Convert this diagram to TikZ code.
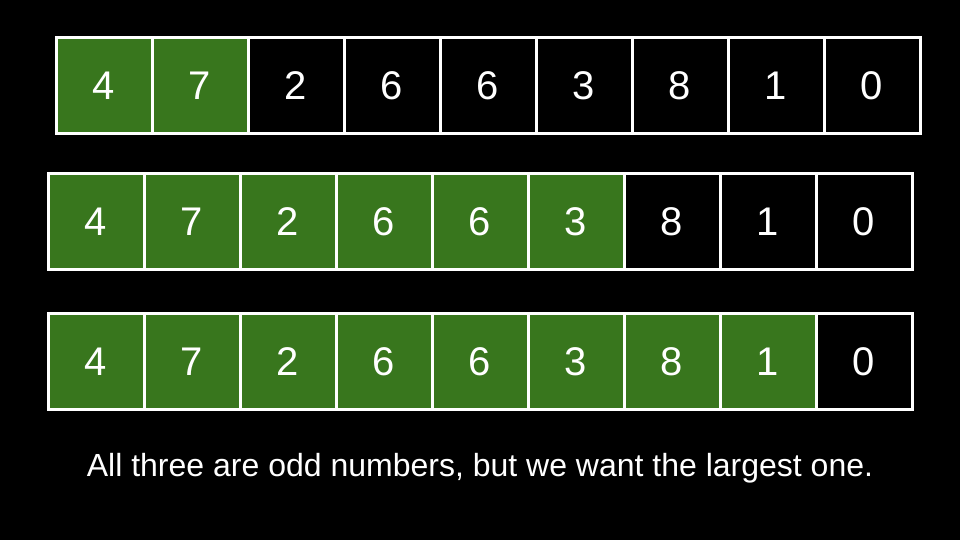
\documentclass[tikz,border=0pt]{standalone}
\usepackage{fontspec}
\setmainfont{Liberation Sans}
\definecolor{cellgreen}{HTML}{38761D}
\newcommand{\dg}[1]{\raisebox{-2pt}{#1}}
\begin{document}
\begin{tikzpicture}[x=1pt,y=-1pt,
  cell/.style={draw=white,line width=3pt,minimum width=96pt,minimum height=96pt,inner sep=0pt,outer sep=0pt,text=white,font=\fontsize{40}{40}\selectfont,anchor=north west},
  gcell/.style={cell,fill=cellgreen},
  bcell/.style={cell,fill=black}]
\fill[black] (0,0) rectangle (960,540);
\useasboundingbox (0,0) rectangle (960,540);
% row 1
\foreach \d [count=\i] in {4,7,2,6,6,3,8,1,0}{
  \pgfmathsetmacro{\xx}{56+96*(\i-1)}
  \ifnum\i<3 \node[gcell] (a\i) at (\xx,37.5) {\dg{\d}};
  \else \node[bcell] (a\i) at (\xx,37.5) {\dg{\d}}; \fi
}
% row 2
\foreach \d [count=\i] in {4,7,2,6,6,3,8,1,0}{
  \pgfmathsetmacro{\xx}{48+96*(\i-1)}
  \ifnum\i<7 \node[gcell] (b\i) at (\xx,173.5) {\dg{\d}};
  \else \node[bcell] (b\i) at (\xx,173.5) {\dg{\d}}; \fi
}
% row 3
\foreach \d [count=\i] in {4,7,2,6,6,3,8,1,0}{
  \pgfmathsetmacro{\xx}{48+96*(\i-1)}
  \ifnum\i<9 \node[gcell] (c\i) at (\xx,313.5) {\dg{\d}};
  \else \node[bcell] (c\i) at (\xx,313.5) {\dg{\d}}; \fi
}
\node[text=white,font=\fontsize{32}{32}\selectfont] (caption) at (480,468) {All three are odd numbers, but we want the largest one.};
\end{tikzpicture}
\end{document}
